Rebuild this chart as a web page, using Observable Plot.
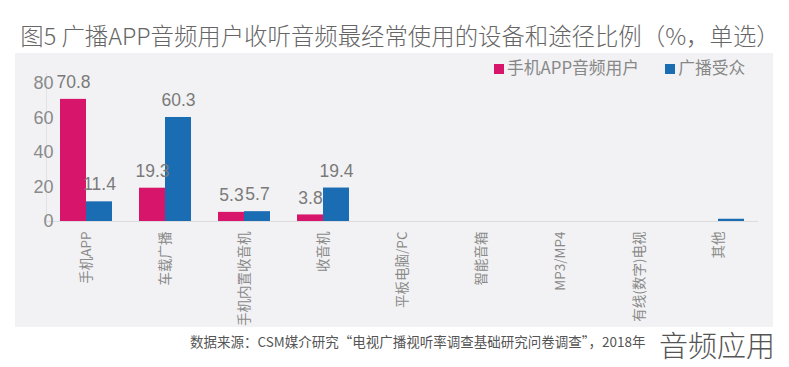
<!DOCTYPE html>
<html><head><meta charset="utf-8">
<script src="https://cdn.jsdelivr.net/npm/d3@7"></script>
<script src="https://cdn.jsdelivr.net/npm/@observablehq/plot@0.6"></script>
<style>
body{margin:0;background:#fff;width:789px;height:367px;position:relative;overflow:hidden;font-family:"Liberation Sans","Noto Sans CJK SC",sans-serif;}
#title{position:absolute;left:0;top:18px;width:800px;text-align:center;font-family:"Noto Sans CJK SC",sans-serif;font-weight:300;font-size:23.4px;color:#666;white-space:nowrap;}
#panel{position:absolute;left:15px;top:53px;width:758px;height:274px;background:#f2f2f4;}
#vline{position:absolute;left:46px;top:73px;width:1px;height:148px;background:#e2e2e4;}
#chart{position:absolute;left:0;top:53px;}
#legend{position:absolute;top:55px;left:494px;font-family:"Noto Sans CJK SC",sans-serif;font-size:16.8px;color:#888;white-space:nowrap;}
#legend span.sw{display:inline-block;width:10px;height:10px;margin-right:3px;vertical-align:0px;}
#caption{position:absolute;left:190px;top:331px;font-family:"Noto Sans CJK SC",sans-serif;font-size:13.5px;color:#555;white-space:nowrap;}
#brand{position:absolute;left:659px;top:323px;font-family:"Noto Sans CJK SC",sans-serif;font-weight:300;font-size:29px;color:#555;white-space:nowrap;}
</style></head>
<body>
<div id="title">图5 广播APP音频用户收听音频最经常使用的设备和途径比例（%，单选）</div>
<div id="panel"></div>
<div id="vline"></div>
<div id="chart"></div>
<div id="legend"><span class="sw" style="background:#d7156b"></span>手机APP音频用户<span style="display:inline-block;width:26px"></span><span class="sw" style="background:#1b6db3"></span>广播受众</div>
<div id="caption">数据来源：CSM媒介研究“电视广播视听率调查基础研究问卷调查”，2018年</div>
<div id="brand">音频应用</div>
<script>
const categories = ["手机APP","车载广播","手机内置收音机","收音机","平板电脑/PC","智能音箱","MP3/MP4","有线(数字)电视","其他"];
const series = ["手机APP音频用户","广播受众"];
const appUsers = [70.8, 19.3, 5.3, 3.8, 0, 0, 0, 0, 0];
const radioAudience = [11.4, 60.3, 5.7, 19.4, 0, 0, 0, 0, 1.3];
const yTicks = [0, 20, 40, 60, 80];
const colors = ["#d7156b", "#1b6db3"];

const data = [];
categories.forEach((c, i) => {
  data.push({cat: c, s: series[0], v: appUsers[i]});
  data.push({cat: c, s: series[1], v: radioAudience[i]});
});
const labeled = data.filter(d => d.v > 2);

const chart = Plot.plot({
  width: 789,
  height: 274,
  marginLeft: 45,
  marginRight: 29,
  marginTop: 30,
  marginBottom: 106,
  style: {background: "transparent", fontFamily: "'Liberation Sans','Noto Sans CJK SC',sans-serif", overflow: "visible"},
  fx: {domain: categories, paddingInner: 0.34, paddingOuter: 0.17, label: null},
  x: {domain: series, padding: 0, axis: null},
  y: {domain: [0, 80], ticks: yTicks, label: null},
  color: {domain: series, range: colors},
  marks: [
    Plot.ruleY([0], {stroke: "#dcdcde", strokeWidth: 1.2, insetLeft: -14, insetRight: -14}),
    Plot.barY(data, {fx: "cat", x: "s", y: "v", fill: "s"}),
    Plot.text(labeled, {fx: "cat", x: "s", y: "v", text: d => d.v.toFixed(1), dy: -17, fontSize: 17.5, fill: "#7a7a7a"}),
    Plot.axisY({ticks: yTicks, tickSize: 0, tickPadding: 7, fontSize: 18, fill: "#8a8a8a", stroke: "none", label: null}),
    Plot.axisFx({anchor: "bottom", tickSize: 0, tickRotate: -90, tickPadding: 10, fontSize: 13.5, fill: "#8a8a8a", label: null, fontFamily: "'Noto Sans CJK SC','Liberation Sans',sans-serif"})
  ]
});
document.getElementById("chart").appendChild(chart);
</script>
</body></html>
